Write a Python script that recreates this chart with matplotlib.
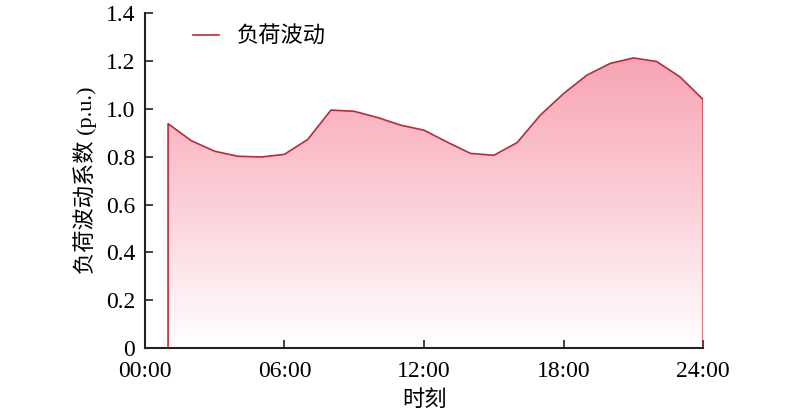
import numpy as np
import matplotlib
matplotlib.use("Agg")
import matplotlib.pyplot as plt
from matplotlib.colors import LinearSegmentedColormap

plt.rcParams['font.family'] = ['Liberation Serif', 'Noto Sans CJK SC']
plt.rcParams['axes.unicode_minus'] = False

# hourly load fluctuation coefficient (p.u.), hours 1..24
hours = list(range(1, 25))
load = [0.938, 0.867, 0.823, 0.802, 0.799, 0.810, 0.872, 0.995, 0.990, 0.964,
        0.932, 0.911, 0.861, 0.814, 0.806, 0.859, 0.974, 1.064, 1.141, 1.190,
        1.213, 1.198, 1.134, 1.039]
xtick_pos = [0, 6, 12, 18, 24]
xtick_labels = ["00:00", "06:00", "12:00", "18:00", "24:00"]
yticks = [0, 0.2, 0.4, 0.6, 0.8, 1.0, 1.2, 1.4]
ytick_labels = ["0", "0.2", "0.4", "0.6", "0.8", "1.0", "1.2", "1.4"]

line_color = "#bb2a3a"

fig = plt.figure(figsize=(8, 4.12), dpi=100)
ax = fig.add_axes([0.181, 0.155, 0.698, 0.813])

x = np.array(hours, dtype=float)
y = np.array(load)

# gradient fill clipped to the area under the curve
poly = ax.fill_between(x, 0, y, facecolor="none", edgecolor="none")
cmap = LinearSegmentedColormap.from_list("pinkfade", ["#ffffff", "#fccfd8", "#f7a4b4"])
grad = np.linspace(0, 1, 256).reshape(-1, 1)
img = ax.imshow(grad, extent=[x[0], x[-1], 0, y.max()], origin="lower",
                aspect="auto", cmap=cmap, zorder=1)
path = poly.get_paths()[0]
img.set_clip_path(path, transform=ax.transData)

# outline with vertical edges at both ends
ox = np.concatenate([[x[0]], x, [x[-1]]])
oy = np.concatenate([[0], y, [0]])
ax.plot(ox, oy, color=line_color, lw=1.2, zorder=3)
ax.plot([], [], color=line_color, lw=1.2, label="负荷波动")

ax.set_xlim(0, 24)
ax.set_ylim(0, 1.4)
ax.set_xticks(xtick_pos)
ax.set_xticklabels(xtick_labels)
ax.set_yticks(yticks)
ax.set_yticklabels(ytick_labels)
ax.tick_params(direction="in", labelsize=17, width=1.2, length=6, colors="#222222")
ax.tick_params(labelcolor="black")
ax.tick_params(axis="x", pad=9)
ax.tick_params(axis="y", pad=7)
for s in ["top", "right"]:
    ax.spines[s].set_visible(False)
for s in ["left", "bottom"]:
    ax.spines[s].set_linewidth(1.5)
    ax.spines[s].set_color("#222222")

ax.set_xlabel("时刻", fontsize=16, labelpad=6)
ax.set_ylabel("负荷波动系数 (p.u.)", fontsize=16, labelpad=6)

ax.legend(loc="upper left", frameon=False, fontsize=16, handlelength=1.2,
          handletextpad=0.8, bbox_to_anchor=(0.05, 1.02))

fig.savefig("out.png", dpi=100)
